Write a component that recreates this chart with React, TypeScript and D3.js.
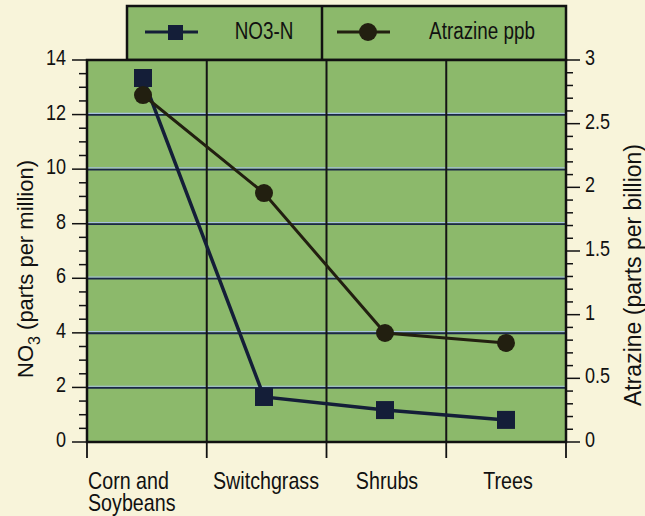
import * as d3 from 'd3';

const categories = ['Corn and Soybeans', 'Switchgrass', 'Shrubs', 'Trees'];
const no3Values = [13.34, 1.65, 1.17, 0.81];
const atrazineValues = [2.725, 1.955, 0.856, 0.778];
const seriesNames = ['NO3-N', 'Atrazine ppb'];

const width = 645;
const height = 516;
const plot = { left: 87, right: 566, top: 60, bottom: 442 };

const BG = '#f8f4da';
const GREEN = '#8cb96b';
const NAVY = '#141e38';
const DARK = '#221f10';
const REG = "'Liberation Sans', Arial, sans-serif";

// no narrow font installed, so squeeze the regular one
const NText = ({ x, y, size, anchor = 'start', children }: any) => (
  <text
    transform={`translate(${x},${y}) scale(0.82,1)`}
    fontFamily={REG}
    fontSize={size}
    textAnchor={anchor}
    fill="#111"
  >
    {children}
  </text>
);

const App = () => {
  const band = d3.scaleBand().domain(categories).range([plot.left, plot.right]);
  const x = d3.scalePoint().domain(categories).range([143, 506]);
  const yLeft = d3.scaleLinear().domain([0, 14]).range([plot.bottom, plot.top]);
  const yRight = d3.scaleLinear().domain([0, 3]).range([plot.bottom, plot.top]);

  const no3Line = d3.line<number>()
    .x((_, i) => x(categories[i])!)
    .y(d => yLeft(d));
  const atrLine = d3.line<number>()
    .x((_, i) => x(categories[i])!)
    .y(d => yRight(d));

  const leftMajor = yLeft.ticks(7);
  const leftMinor = yLeft.ticks(28);
  const rightMajor = yRight.ticks(6);
  const rightMinor = yRight.ticks(30);
  const bounds = [...categories.map(c => band(c)!), plot.right];

  return (
    <svg width={width} height={height} style={{ position: 'absolute', left: 0, top: 0, display: 'block' }}>
      <rect width={width} height={height} fill={BG} />

      {/* legend */}
      <g>
        <rect x={127} y={6} width={439} height={54} fill={GREEN} stroke="#111" strokeWidth={2.5} />
        <line x1={322} x2={322} y1={6} y2={60} stroke="#111" strokeWidth={2.5} />
        <line x1={145} x2={198} y1={32} y2={32} stroke={NAVY} strokeWidth={3} />
        <rect x={168} y={25} width={15} height={15} fill={NAVY} />
        <NText x={264} y={39} size={23} anchor="middle">{seriesNames[0]}</NText>
        <line x1={337} x2={390} y1={32} y2={32} stroke={DARK} strokeWidth={3} />
        <circle cx={368} cy={32} r={9} fill={DARK} />
        <NText x={482} y={39} size={23} anchor="middle">{seriesNames[1]}</NText>
      </g>

      {/* plot area */}
      <rect x={plot.left} y={plot.top} width={plot.right - plot.left} height={plot.bottom - plot.top} fill={GREEN} />
      {leftMajor.filter(v => v > 0 && v < 14).map(v => (
        <g key={'h' + v}>
          <line x1={plot.left} x2={plot.right} y1={yLeft(v) - 1.2} y2={yLeft(v) - 1.2} stroke="#a6c2dc" strokeWidth={1.2} />
          <line x1={plot.left} x2={plot.right} y1={yLeft(v) + 0.4} y2={yLeft(v) + 0.4} stroke="#1a2747" strokeWidth={1.8} />
        </g>
      ))}
      {bounds.slice(1, -1).map((b, i) => (
        <line key={'v' + i} x1={b} x2={b} y1={plot.top} y2={plot.bottom} stroke="#141414" strokeWidth={2} />
      ))}
      <rect x={plot.left} y={plot.top} width={plot.right - plot.left} height={plot.bottom - plot.top} fill="none" stroke="#111" strokeWidth={2.5} />

      {/* left axis */}
      {leftMinor.map(v => (
        <line key={'lm' + v} x1={leftMajor.includes(v) ? 72 : 79} x2={plot.left} y1={yLeft(v)} y2={yLeft(v)} stroke="#111" strokeWidth={1.5} />
      ))}
      {leftMajor.map(v => (
        <NText key={'lt' + v} x={66} y={yLeft(v) + 5} size={22} anchor="end">{v}</NText>
      ))}

      {/* right axis */}
      {rightMinor.map(v => (
        <line key={'rm' + v} x1={plot.right} x2={rightMajor.some(m => Math.abs(m - v) < 1e-9) ? 580 : 573} y1={yRight(v)} y2={yRight(v)} stroke="#111" strokeWidth={1.5} />
      ))}
      {rightMajor.map(v => (
        <NText key={'rt' + v} x={585} y={yRight(v) + 5} size={22}>{String(+v.toFixed(1))}</NText>
      ))}

      {/* x axis ticks */}
      {bounds.map((b, i) => (
        <line key={'xt' + i} x1={b} x2={b} y1={plot.bottom} y2={458} stroke="#111" strokeWidth={1.8} />
      ))}
      {categories.map((c, i) => {
        if (i === 0) {
          const words = c.split(' ');
          return (
            <g key={c}>
              <NText x={band(c)! + 1} y={489} size={24}>{words.slice(0, 2).join(' ')}</NText>
              <NText x={band(c)! + 1} y={511} size={24}>{words[2]}</NText>
            </g>
          );
        }
        return (
          <NText key={c} x={x(c)! + 2} y={489} size={24} anchor="middle">{c}</NText>
        );
      })}

      {/* axis titles */}
      <text transform={`translate(33,${269}) rotate(-90)`} fontFamily={REG} fontSize={22} textAnchor="middle" fill="#111">
        NO<tspan fontSize={16} dy={7}>3</tspan><tspan dy={-7}> (parts per million)</tspan>
      </text>
      <text transform={`translate(641,${275}) rotate(-90)`} fontFamily={REG} fontSize={23} textAnchor="middle" fill="#111">
        Atrazine (parts per billion)
      </text>

      {/* series */}
      <path d={no3Line(no3Values)!} fill="none" stroke={NAVY} strokeWidth={3.5} />
      {no3Values.map((v, i) => (
        <rect key={'s' + i} x={x(categories[i])! - 9} y={yLeft(v) - 9} width={18} height={18} fill={NAVY} />
      ))}
      <path d={atrLine(atrazineValues)!} fill="none" stroke={DARK} strokeWidth={3} />
      {atrazineValues.map((v, i) => (
        <circle key={'c' + i} cx={x(categories[i])!} cy={yRight(v)} r={9} fill={DARK} />
      ))}
    </svg>
  );
};

export default App;
